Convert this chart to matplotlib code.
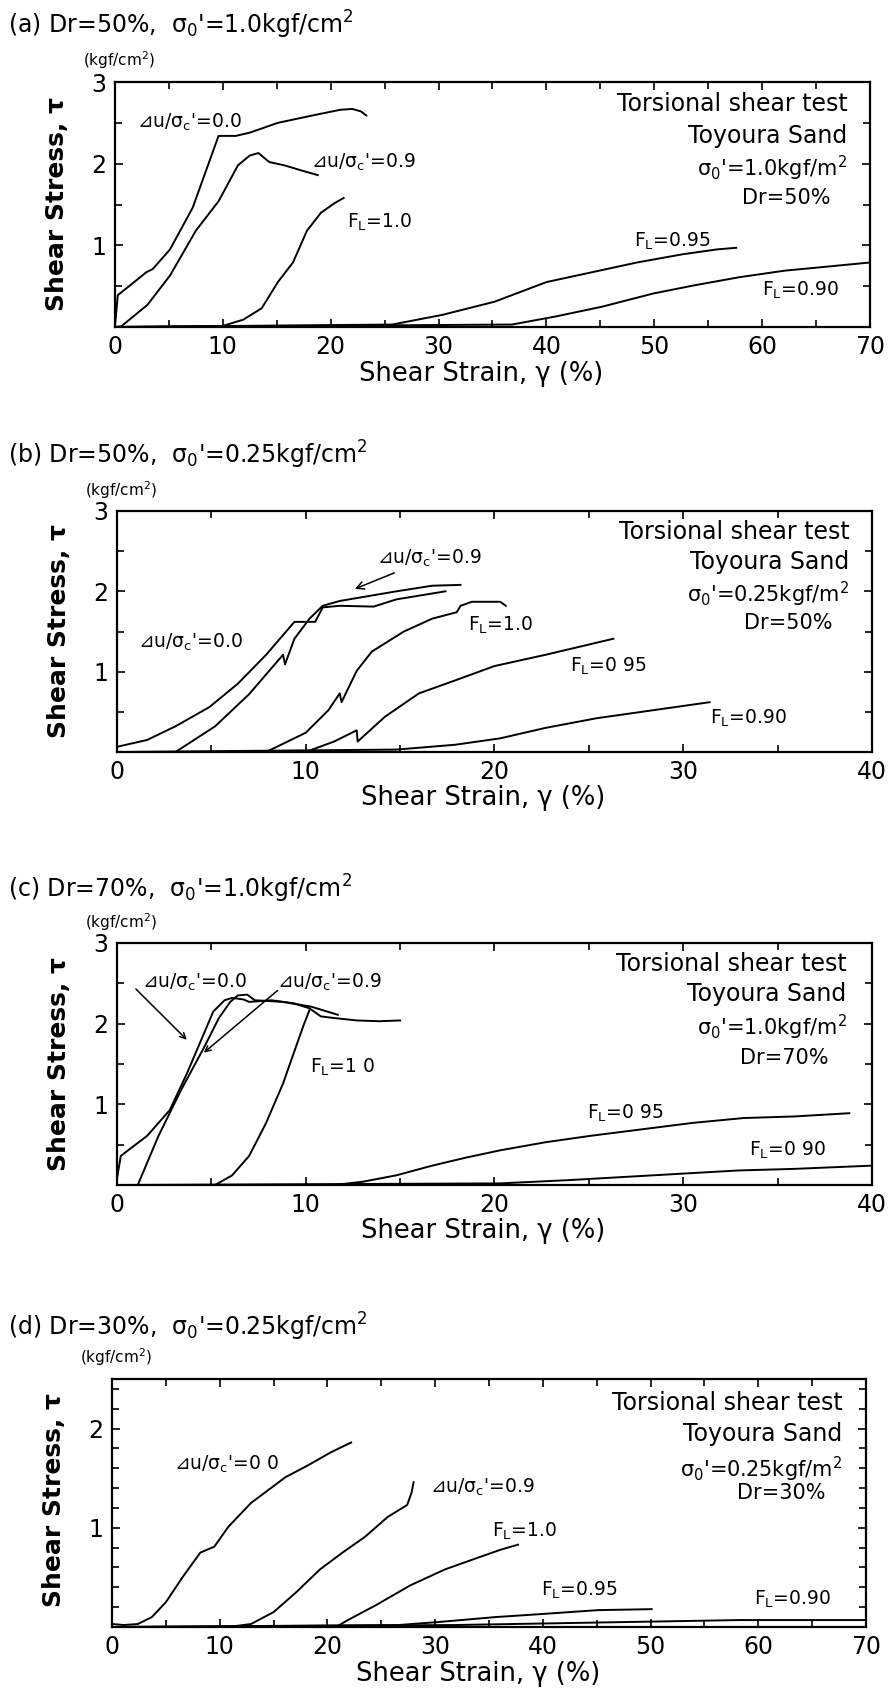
import numpy as np
import matplotlib
matplotlib.use("Agg")
import matplotlib.pyplot as plt
from matplotlib.ticker import FixedLocator, MultipleLocator

plt.rcParams['font.family'] = ['DejaVu Sans', 'Noto Sans CJK JP']
plt.rcParams['mathtext.fontset'] = 'dejavusans'

# ---------------- (a) Dr=50%, sigma0'=1.0 ----------------
a_u00_x = [0, 0.26, 1.4, 2.9, 3.5, 5.1, 7.2, 9.6, 11.2, 12.5, 15.1, 18.3, 20.9, 22.0, 22.8, 23.3]
a_u00_y = [0.01, 0.39, 0.51, 0.67, 0.71, 0.95, 1.46, 2.34, 2.34, 2.38, 2.50, 2.59, 2.66, 2.67, 2.64, 2.59]
a_u09_x = [0, 0.6, 3.0, 5.1, 7.5, 9.6, 11.4, 12.5, 13.3, 14.3, 15.7, 17.2, 18.8]
a_u09_y = [0, 0.01, 0.27, 0.63, 1.18, 1.54, 1.98, 2.10, 2.13, 2.02, 1.98, 1.92, 1.86]
a_f100_x = [0, 9.9, 11.9, 13.6, 15.1, 16.5, 17.8, 19.1, 20.4, 21.2]
a_f100_y = [0, 0.01, 0.09, 0.23, 0.55, 0.79, 1.18, 1.40, 1.52, 1.58]
a_f095_x = [0, 25.7, 30.4, 35.2, 40.0, 44.2, 48.4, 52.6, 55.8, 57.6]
a_f095_y = [0, 0.03, 0.15, 0.31, 0.55, 0.67, 0.79, 0.89, 0.95, 0.97]
a_f090_x = [0, 36.8, 40.9, 45.2, 49.9, 53.7, 57.9, 62.1, 65.3, 70.0]
a_f090_y = [0, 0.03, 0.13, 0.25, 0.41, 0.51, 0.61, 0.69, 0.73, 0.79]

# ---------------- (b) Dr=50%, sigma0'=0.25 ----------------
b_u00_x = [0, 0.1, 1.6, 3.1, 4.9, 6.4, 7.9, 9.4, 10.5, 10.9, 11.8, 13.6, 14.8, 17.4]
b_u00_y = [0.06, 0.07, 0.15, 0.32, 0.56, 0.85, 1.21, 1.62, 1.62, 1.80, 1.82, 1.81, 1.90, 2.00]
b_u09_x = [0, 3.1, 5.2, 7.0, 8.5, 8.8, 8.9, 9.4, 10.2, 10.9, 11.8, 13.3, 14.8, 16.7, 18.2]
b_u09_y = [0, 0, 0.32, 0.72, 1.13, 1.21, 1.09, 1.41, 1.66, 1.82, 1.88, 1.94, 2.00, 2.07, 2.08]
b_f100_x = [0, 7.9, 10.0, 11.2, 11.8, 11.9, 12.1, 12.7, 13.5, 15.2, 16.7, 18.0, 18.2, 18.8, 20.3, 20.6]
b_f100_y = [0, 0, 0.24, 0.52, 0.73, 0.62, 0.72, 1.01, 1.25, 1.50, 1.66, 1.74, 1.82, 1.87, 1.87, 1.82]
b_f095_x = [0, 10.0, 11.5, 12.7, 12.75, 14.2, 16.0, 17.9, 20.0, 22.7, 26.3]
b_f095_y = [0, 0, 0.13, 0.27, 0.13, 0.44, 0.73, 0.89, 1.07, 1.21, 1.41]
b_f090_x = [0, 14.8, 17.9, 20.3, 22.7, 25.4, 28.4, 31.4]
b_f090_y = [0, 0.03, 0.09, 0.17, 0.30, 0.42, 0.52, 0.62]

# ---------------- (c) Dr=70%, sigma0'=1.0 ----------------
c_u00_x = [0, 0.2, 0.7, 1.6, 2.8, 3.7, 4.5, 5.1, 5.7, 6.1, 6.7, 7.0, 8.2, 9.4, 10.2, 10.8, 11.5, 12.7, 13.9, 15.0]
c_u00_y = [0.08, 0.36, 0.45, 0.61, 0.93, 1.38, 1.82, 2.15, 2.29, 2.32, 2.30, 2.27, 2.29, 2.25, 2.19, 2.09, 2.07, 2.04, 2.03, 2.04]
c_u09_x = [0, 1.1, 2.2, 3.4, 4.6, 5.4, 6.0, 6.4, 6.9, 7.3, 8.8, 10.3, 11.7]
c_u09_y = [0, 0, 0.61, 1.18, 1.70, 2.07, 2.27, 2.35, 2.36, 2.29, 2.27, 2.21, 2.11]
c_f100_x = [0, 5.2, 6.1, 7.0, 7.9, 8.8, 9.4, 9.9, 10.2]
c_f100_y = [0, 0, 0.12, 0.36, 0.77, 1.26, 1.66, 1.99, 2.17]
c_f095_x = [0, 11.5, 13.0, 14.8, 16.7, 18.5, 20.3, 22.7, 25.1, 27.8, 30.5, 33.2, 35.9, 38.8]
c_f095_y = [0, 0, 0.04, 0.12, 0.24, 0.34, 0.43, 0.53, 0.61, 0.69, 0.77, 0.83, 0.85, 0.89]
c_f090_x = [0, 20.3, 23.9, 26.9, 29.9, 32.9, 35.9, 40.0]
c_f090_y = [0, 0.02, 0.06, 0.10, 0.14, 0.18, 0.20, 0.24]

# ---------------- (d) Dr=30%, sigma0'=0.25 ----------------
d_u00_x = [0, 1.1, 2.4, 3.7, 5.0, 6.6, 8.2, 9.5, 10.8, 12.9, 14.5, 16.1, 18.2, 20.3, 22.2]
d_u00_y = [0.03, 0.02, 0.03, 0.10, 0.25, 0.51, 0.75, 0.81, 1.01, 1.25, 1.38, 1.51, 1.63, 1.76, 1.86]
d_u09_x = [0, 10.8, 12.9, 15.0, 17.1, 19.3, 21.4, 23.5, 25.6, 27.4, 27.8, 28.0]
d_u09_y = [0, 0, 0.03, 0.15, 0.35, 0.58, 0.75, 0.91, 1.11, 1.23, 1.35, 1.46]
d_f100_x = [0, 20.8, 21.9, 24.5, 27.7, 30.9, 34.0, 36.1, 37.7]
d_f100_y = [0, 0, 0.07, 0.22, 0.42, 0.58, 0.70, 0.78, 0.83]
d_f095_x = [0, 26.6, 30.3, 35.6, 39.8, 45.1, 50.1]
d_f095_y = [0, 0.02, 0.05, 0.10, 0.13, 0.17, 0.18]
d_f090_x = [0, 31.9, 37.2, 47.7, 58.3, 70.0]
d_f090_y = [0, 0.02, 0.03, 0.05, 0.07, 0.07]

W, H = 892, 1697
fig = plt.figure(figsize=(W / 100, H / 100), dpi=100)

U00 = r"⊿u/σ$_\mathrm{c}$'=0.0"
U09 = r"⊿u/σ$_\mathrm{c}$'=0.9"
FL = r"F$_\mathrm{L}$="


def make_axes(rect, xmax, ymax, ymajor, yminor):
    ax = fig.add_axes(rect)
    ax.set_xlim(0, xmax)
    ax.set_ylim(0, ymax)
    ax.xaxis.set_major_locator(MultipleLocator(10))
    ax.xaxis.set_minor_locator(MultipleLocator(5))
    ax.yaxis.set_major_locator(FixedLocator(ymajor))
    ax.yaxis.set_minor_locator(FixedLocator(yminor))
    ax.tick_params(which='both', direction='in', top=True, right=True,
                   labelsize=17, pad=6, width=1.2)
    ax.tick_params(which='major', length=6)
    ax.tick_params(which='minor', length=5)
    for s in ax.spines.values():
        s.set_linewidth(1.6)
    ax.set_xlabel("Shear Strain, γ (%)", fontsize=18.5, va='center')
    ax.xaxis.set_label_coords(0.485, -0.19)
    ax.set_ylabel("Shear Stress, τ", fontsize=18, fontweight='bold', va='center')
    ax.yaxis.set_label_coords(-0.077, 0.5)
    ax.text(0.006, 1.088, "(kgf/cm$^2$)", transform=ax.transAxes,
            fontsize=11, ha='center', va='center')
    return ax


def curves(ax, pairs):
    for x, y in pairs:
        ax.plot(x, y, color='black', lw=1.4)


def box_text(ax, xr, xdr, ys, sig, dr):
    ax.text(xr, ys[0], "Torsional shear test", fontsize=17, ha='right', va='center')
    ax.text(xr, ys[1], "Toyoura Sand", fontsize=17, ha='right', va='center')
    ax.text(xr, ys[2], sig, fontsize=15, ha='right', va='center')
    ax.text(xdr, ys[3], dr, fontsize=15, ha='right', va='center')


def title(ypix, s):
    fig.text(8 / W, 1 - ypix / H, s, fontsize=17, ha='left', va='center')


lab = dict(fontsize=13.5, ha='left', va='center')

# (a)
ax = make_axes([115 / W, 1 - 327 / H, 755 / W, 245 / H], 70, 3, [1, 2, 3], [0.5, 1.5, 2.5])
curves(ax, [(a_u00_x, a_u00_y), (a_u09_x, a_u09_y), (a_f100_x, a_f100_y),
            (a_f095_x, a_f095_y), (a_f090_x, a_f090_y)])
ax.text(2.0, 2.50, U00, **lab)
ax.text(18.2, 2.02, U09, **lab)
ax.text(21.5, 1.28, FL + "1.0", **lab)
ax.text(48.1, 1.05, FL + "0.95", **lab)
ax.text(60.0, 0.45, FL + "0.90", **lab)
box_text(ax, 67.9, 66.3, [2.73, 2.34, 1.94, 1.58], "σ$_0$'=1.0kgf/m$^2$", "Dr=50%")
title(25, "(a) Dr=50%,  σ$_0$'=1.0kgf/cm$^2$")

# (b)
ax = make_axes([117 / W, 1 - 752 / H, 755 / W, 241 / H], 40, 3, [1, 2, 3], [0.5, 1.5, 2.5])
curves(ax, [(b_u00_x, b_u00_y), (b_u09_x, b_u09_y), (b_f100_x, b_f100_y),
            (b_f095_x, b_f095_y), (b_f090_x, b_f090_y)])
ax.annotate(U09, xy=(12.6, 2.03), xytext=(13.8, 2.41), fontsize=13.5, ha='left', va='center',
            arrowprops=dict(arrowstyle='->', color='black', lw=1.1, shrinkA=2, shrinkB=0))
ax.text(1.1, 1.37, U00, **lab)
ax.text(18.6, 1.58, FL + "1.0", **lab)
ax.text(24.0, 1.07, FL + "0 95", **lab)
ax.text(31.4, 0.42, FL + "0.90", **lab)
box_text(ax, 38.8, 37.9, [2.74, 2.37, 1.96, 1.60], "σ$_0$'=0.25kgf/m$^2$", "Dr=50%")
title(455, "(b) Dr=50%,  σ$_0$'=0.25kgf/cm$^2$")

# (c)
ax = make_axes([117 / W, 1 - 1185 / H, 755 / W, 242 / H], 40, 3, [1, 2, 3], [0.5, 1.5, 2.5])
curves(ax, [(c_u00_x, c_u00_y), (c_u09_x, c_u09_y), (c_f100_x, c_f100_y),
            (c_f095_x, c_f095_y), (c_f090_x, c_f090_y)])
ax.text(1.3, 2.51, U00, **lab)
ax.annotate("", xy=(3.7, 1.80), xytext=(1.0, 2.43),
            arrowprops=dict(arrowstyle='->', color='black', lw=1.1, shrinkA=0, shrinkB=0))
ax.text(8.5, 2.51, U09, **lab)
ax.annotate("", xy=(4.6, 1.64), xytext=(8.5, 2.41),
            arrowprops=dict(arrowstyle='->', color='black', lw=1.1, shrinkA=0, shrinkB=0))
ax.text(10.2, 1.46, FL + "1 0", **lab)
ax.text(24.9, 0.89, FL + "0 95", **lab)
ax.text(33.5, 0.43, FL + "0 90", **lab)
box_text(ax, 38.65, 37.7, [2.74, 2.37, 1.95, 1.58], "σ$_0$'=1.0kgf/m$^2$", "Dr=70%")
title(889, "(c) Dr=70%,  σ$_0$'=1.0kgf/cm$^2$")

# (d)
ax = make_axes([112 / W, 1 - 1627 / H, 754 / W, 248 / H], 70, 2.5, [1, 2],
               [0.2, 0.4, 0.6, 0.8, 1.2, 1.4, 1.6, 1.8, 2.2, 2.4])
ax.yaxis.set_label_coords(-0.077, 0.51)
curves(ax, [(d_u00_x, d_u00_y), (d_u09_x, d_u09_y), (d_f100_x, d_f100_y),
            (d_f095_x, d_f095_y), (d_f090_x, d_f090_y)])
ax.text(5.8, 1.64, r"⊿u/σ$_\mathrm{c}$'=0 0", **lab)
ax.text(29.5, 1.41, U09, **lab)
ax.text(35.3, 0.96, FL + "1.0", **lab)
ax.text(39.8, 0.37, FL + "0.95", **lab)
ax.text(59.6, 0.28, FL + "0.90", **lab)
box_text(ax, 67.8, 66.2, [2.26, 1.95, 1.59, 1.35], "σ$_0$'=0.25kgf/m$^2$", "Dr=30%")
title(1327, "(d) Dr=30%,  σ$_0$'=0.25kgf/cm$^2$")

fig.savefig("out.png", dpi=100)
